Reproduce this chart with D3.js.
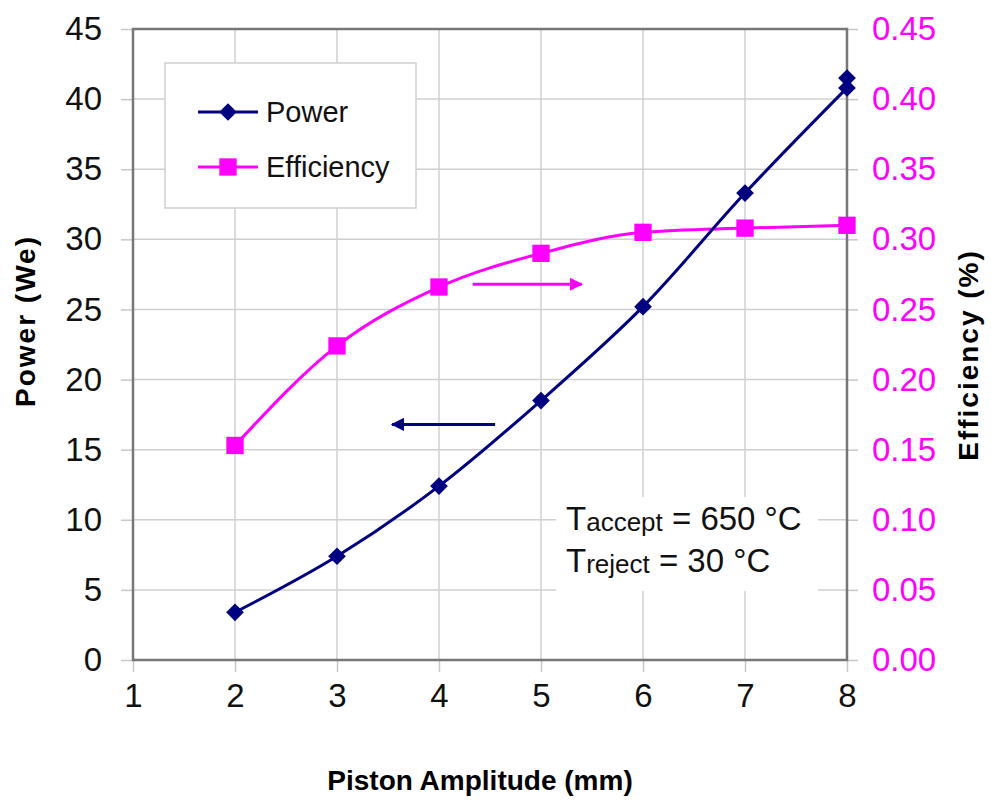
<!DOCTYPE html>
<html>
<head>
<meta charset="utf-8">
<script src="https://cdn.jsdelivr.net/npm/d3@7"></script>
<style>
	body { margin: 0; background: #fff; }
	text { font-family: "Liberation Sans", Arial, sans-serif; }
</style>
</head>
<body>
<svg width="991" height="807"></svg>
<script>
	// data
	const amplitude = [2, 3, 4, 5, 6, 7, 8, 8];
	const power = [3.4, 7.4, 12.4, 18.5, 25.2, 33.3, 40.8, 41.5];
	const effAmplitude = [2, 3, 4, 5, 6, 7, 8];
	const efficiency = [0.153, 0.224, 0.266, 0.290, 0.305, 0.308, 0.310];
	const xTicks = [1, 2, 3, 4, 5, 6, 7, 8];
	const powerTicks = d3.range(0, 46, 5);
	const effTicks = d3.range(0, 0.451, 0.05);

	let svg = d3.select('svg');
	const pLeft = 133, pRight = 847, pTop = 29, pBottom = 660;
	const navy = '#000080', pink = '#ff00ff';

	let x = d3.scaleLinear().domain([1, 8]).range([pLeft, pRight]);
	let yP = d3.scaleLinear().domain([0, 45]).range([pBottom, pTop]);
	let yE = d3.scaleLinear().domain([0, 0.45]).range([pBottom, pTop]);

	// grid
	let grid = svg.append('g').attr('stroke', '#d0d0d0').attr('stroke-width', 1.5);
	grid.selectAll('.gx').data(xTicks.slice(1)).enter().append('line')
		.attr('x1', d => x(d)).attr('x2', d => x(d))
		.attr('y1', pTop).attr('y2', pBottom);
	grid.selectAll('.gy').data(powerTicks.slice(1)).enter().append('line')
		.attr('x1', pLeft).attr('x2', pRight)
		.attr('y1', d => yP(d)).attr('y2', d => yP(d));

	// axes
	let xAxis = svg.append('g')
		.attr('transform', 'translate(0,' + pBottom + ')')
		.call(d3.axisBottom(x).tickValues(xTicks).tickSize(12).tickPadding(12).tickFormat(d3.format('d')));
	let leftAxis = svg.append('g')
		.attr('transform', 'translate(' + pLeft + ',0)')
		.call(d3.axisLeft(yP).tickValues(powerTicks).tickSize(12).tickPadding(19).tickFormat(d3.format('d')));
	let rightAxis = svg.append('g')
		.attr('transform', 'translate(' + pRight + ',0)')
		.call(d3.axisRight(yE).tickValues(effTicks).tickSize(11).tickPadding(14).tickFormat(d3.format('.2f')));

	[xAxis, leftAxis, rightAxis].forEach(a => {
		a.select('.domain').remove();
		a.selectAll('.tick line').attr('stroke', '#c8c8c8').attr('stroke-width', 1.5);
		a.selectAll('.tick text').attr('font-size', 33).attr('fill', '#111');
	});
	rightAxis.selectAll('.tick text').attr('fill', pink);

	// frame
	svg.append('rect')
		.attr('x', pLeft).attr('y', pTop)
		.attr('width', pRight - pLeft).attr('height', pBottom - pTop)
		.attr('fill', 'none').attr('stroke', '#777').attr('stroke-width', 2.5);

	// legend box
	svg.append('rect')
		.attr('x', 165).attr('y', 63).attr('width', 251).attr('height', 145)
		.attr('fill', '#fff').attr('stroke', '#cfcfcf').attr('stroke-width', 1.5);

	// annotation box
	svg.append('rect')
		.attr('x', 556).attr('y', 497).attr('width', 262).attr('height', 94)
		.attr('fill', '#fff');

	// lines
	let pLine = d3.line()
		.x((d, i) => x(amplitude[i])).y(d => yP(d))
		.curve(d3.curveCatmullRom);
	let eLine = d3.line()
		.x((d, i) => x(effAmplitude[i])).y(d => yE(d))
		.curve(d3.curveMonotoneX);

	svg.append('path').attr('d', eLine(efficiency))
		.attr('fill', 'none').attr('stroke', pink).attr('stroke-width', 3);
	svg.append('path').attr('d', pLine(power.slice(0, 7)))
		.attr('fill', 'none').attr('stroke', navy).attr('stroke-width', 3);

	let diamond = d3.symbol().type(d3.symbolDiamond2).size(200);
	let square = d3.symbol().type(d3.symbolSquare).size(300);

	svg.selectAll('.eff').data(efficiency).enter().append('path')
		.attr('transform', (d, i) => 'translate(' + x(effAmplitude[i]) + ',' + yE(d) + ')')
		.attr('d', square).attr('fill', pink);
	svg.selectAll('.pow').data(power).enter().append('path')
		.attr('transform', (d, i) => 'translate(' + x(amplitude[i]) + ',' + yP(d) + ')')
		.attr('d', diamond).attr('fill', navy);

	// arrows
	let defs = svg.append('defs');
	[['arrNavy', navy], ['arrPink', pink]].forEach(a => {
		defs.append('marker').attr('id', a[0])
			.attr('viewBox', '0 0 10 10').attr('refX', 9).attr('refY', 5)
			.attr('markerWidth', 4.5).attr('markerHeight', 4.5).attr('orient', 'auto')
			.append('path').attr('d', 'M0,0L10,5L0,10z').attr('fill', a[1]);
	});
	svg.append('line')
		.attr('x1', x(4.33)).attr('x2', x(5.4))
		.attr('y1', yE(0.268)).attr('y2', yE(0.268))
		.attr('stroke', pink).attr('stroke-width', 3).attr('marker-end', 'url(#arrPink)');
	svg.append('line')
		.attr('x1', x(4.55)).attr('x2', x(3.54))
		.attr('y1', yP(16.8)).attr('y2', yP(16.8))
		.attr('stroke', navy).attr('stroke-width', 3).attr('marker-end', 'url(#arrNavy)');

	// legend entries
	let legend = [['Power', navy, diamond], ['Efficiency', pink, square]];
	legend.forEach((l, i) => {
		let ly = 112 + i * 55;
		svg.append('line').attr('x1', 198).attr('x2', 258)
			.attr('y1', ly).attr('y2', ly)
			.attr('stroke', l[1]).attr('stroke-width', 3);
		svg.append('path').attr('transform', 'translate(228,' + ly + ')')
			.attr('d', l[2]).attr('fill', l[1]);
		svg.append('text').attr('x', 266).attr('y', ly + 10)
			.attr('font-size', 29).attr('fill', '#111').text(l[0]);
	});

	// temperature note
	let note = [['accept', '= 650 °C', 530], ['reject', '= 30 °C', 572]];
	note.forEach(n => {
		let t = svg.append('text').attr('x', 566).attr('y', n[2])
			.attr('font-size', 33).attr('fill', '#111');
		t.append('tspan').text('T');
		t.append('tspan').attr('font-size', 26).attr('dy', 1).text(n[0]);
		t.append('tspan').attr('dy', -1).text(' ' + n[1]);
	});

	// axis titles
	svg.append('text')
		.attr('transform', 'translate(35,321) rotate(-90)')
		.attr('text-anchor', 'middle').attr('font-size', 28).attr('font-weight', 'bold')
		.attr('letter-spacing', 2).text('Power (We)');
	svg.append('text')
		.attr('transform', 'translate(978,355) rotate(-90)')
		.attr('text-anchor', 'middle').attr('font-size', 28).attr('font-weight', 'bold')
		.attr('letter-spacing', 2).text('Efficiency (%)');
	svg.append('text')
		.attr('x', 480).attr('y', 790)
		.attr('text-anchor', 'middle').attr('font-size', 28).attr('font-weight', 'bold')
		.text('Piston Amplitude (mm)');
</script>
</body>
</html>
